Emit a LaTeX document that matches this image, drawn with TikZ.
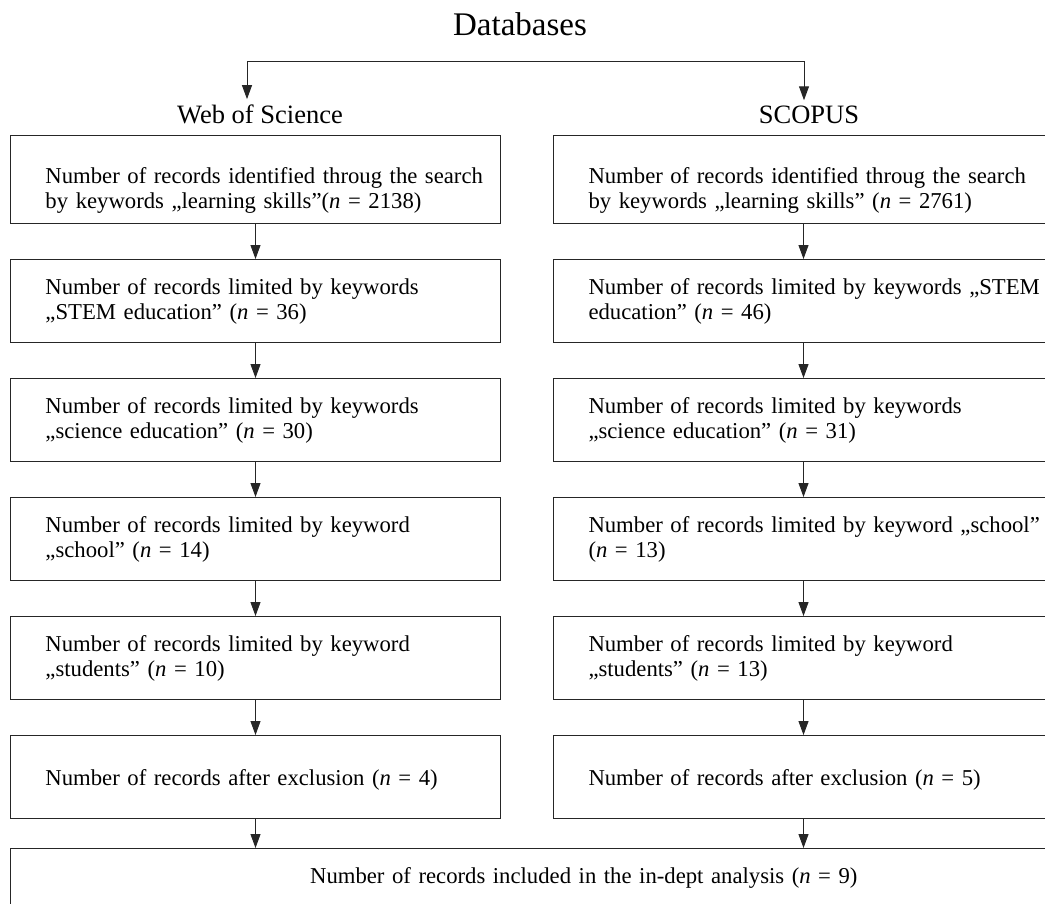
\documentclass[tikz,border=0pt]{standalone}
\usepackage{fontspec}
\setmainfont{Liberation Serif}
\usetikzlibrary{arrows.meta,positioning}
\newcommand{\bodyfont}{\fontsize{22.7pt}{24.6pt}\selectfont}
\tikzset{
 rec/.style={draw=black!85,line width=1pt,anchor=north west,inner ysep=0pt,inner xsep=5pt,
   align=left,font=\bodyfont,execute at begin node={\leftskip=30pt\rightskip=-40pt plus 2em}},
 wrec/.style={rec,text width=480pt},
 srec/.style={rec,text width=490pt},
 top/.style={text height=48pt,text depth=40pt},
 two/.style={text height=35pt,text depth=48pt},
 one/.style={text height=50pt,text depth=33pt},
 head/.style={font=\fontsize{26.5pt}{28pt}\selectfont,inner sep=5pt,anchor=base},
 total/.style={draw=black!85,line width=1pt,anchor=north west,inner ysep=0pt,
   text width=1140pt,align=center,font=\bodyfont,text height=35pt,text depth=40pt},
 arr/.style={-{Triangle[length=14pt,width=10pt]},line width=1pt,draw=black!85}
}
\begin{document}
\begin{tikzpicture}[x=1pt,y=-1pt,node distance=35pt]
\useasboundingbox (0,0) rectangle (1045,903);
\node[anchor=base,font=\fontsize{33pt}{36pt}\selectfont] (db) at (520,35) {Databases};
\node[head] (wos) at (260,123) {Web of Science};
\node[head] (sco) at (809,123) {SCOPUS};
\coordinate (jl) at (247,61);
\coordinate (jr) at (804,61);
% Web of Science column
\node[wrec,top] (w1) at (10,135) {Number of records identified throug the search\\by keywords „learning skills”(\textit{n} = 2138)};
\node[wrec,two,below=of w1] (w2) {Number of records limited by keywords\\„STEM education” (\textit{n} = 36)};
\node[wrec,two,below=of w2] (w3) {Number of records limited by keywords\\„science education” (\textit{n} = 30)};
\node[wrec,two,below=of w3] (w4) {Number of records limited by keyword\\„school” (\textit{n} = 14)};
\node[wrec,two,below=of w4] (w5) {Number of records limited by keyword\\„students” (\textit{n} = 10)};
\node[wrec,one,below=of w5] (w6) {Number of records after exclusion (\textit{n} = 4)};
% SCOPUS column
\node[srec,top] (s1) at (553,135) {Number of records identified throug the search\\by keywords „learning skills” (\textit{n} = 2761)};
\node[srec,two,below=of s1] (s2) {Number of records limited by keywords „STEM\\education” (\textit{n} = 46)};
\node[srec,two,below=of s2] (s3) {Number of records limited by keywords\\„science education” (\textit{n} = 31)};
\node[srec,two,below=of s3] (s4) {Number of records limited by keyword „school”\\(\textit{n} = 13)};
\node[srec,two,below=of s4] (s5) {Number of records limited by keyword\\„students” (\textit{n} = 13)};
\node[srec,one,below=of s5] (s6) {Number of records after exclusion (\textit{n} = 5)};
\node[total] (all) at (10,848) {Number of records included in the in-dept analysis (\textit{n} = 9)};
\draw[line width=1pt,draw=black!85] (jl) -- (jr);
\draw[arr] (jl) -- (jl |- wos.north);
\draw[arr] (jr) -- (jr |- sco.north);
\foreach \a/\b in {w1/w2,w2/w3,w3/w4,w4/w5,w5/w6,s1/s2,s2/s3,s3/s4,s4/s5,s5/s6}
  \draw[arr] (\a) -- (\b);
\draw[arr] (w6.south) -- (w6.south |- all.north);
\draw[arr] (s6.south) -- (s6.south |- all.north);
\end{tikzpicture}
\end{document}
